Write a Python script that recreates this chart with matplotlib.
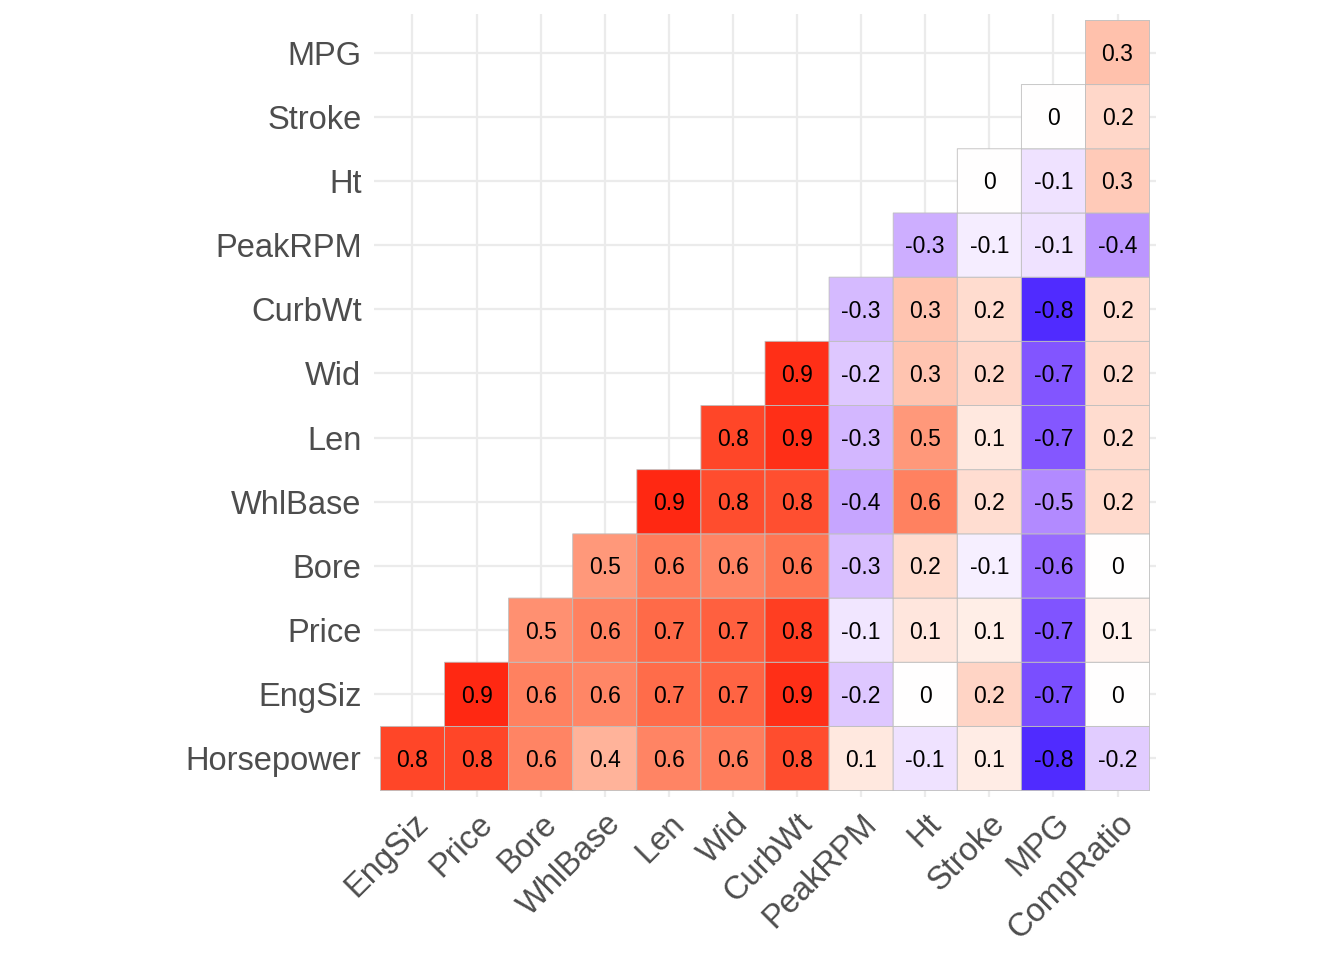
import numpy as np
import matplotlib
matplotlib.use('Agg')
import matplotlib.pyplot as plt
from matplotlib.colors import ListedColormap, Normalize

plt.rcParams['font.family'] = ['Liberation Sans', 'DejaVu Sans']

# Columns (x) and rows (y, bottom to top)
x_labels = ['EngSiz', 'Price', 'Bore', 'WhlBase', 'Len', 'Wid', 'CurbWt',
            'PeakRPM', 'Ht', 'Stroke', 'MPG', 'CompRatio']
y_labels = ['Horsepower', 'EngSiz', 'Price', 'Bore', 'WhlBase', 'Len', 'Wid',
            'CurbWt', 'PeakRPM', 'Ht', 'Stroke', 'MPG']

nan = np.nan
# correlation rows, one per y label, nan = upper triangle (not drawn)
r_horsepower = [0.81, 0.81, 0.58, 0.37, 0.58, 0.61, 0.79, 0.11, -0.11, 0.09, -0.83, -0.20]
r_engsiz = [nan, 0.88, 0.59, 0.57, 0.68, 0.71, 0.87, -0.22, 0.00, 0.21, -0.71, 0.00]
r_price = [nan, nan, 0.53, 0.59, 0.69, 0.72, 0.83, -0.10, 0.12, 0.08, -0.69, 0.07]
r_bore = [nan, nan, nan, 0.49, 0.61, 0.58, 0.64, -0.26, 0.17, -0.06, -0.59, 0.00]
r_whlbase = [nan, nan, nan, nan, 0.88, 0.79, 0.78, -0.36, 0.59, 0.16, -0.47, 0.18]
r_len = [nan, nan, nan, nan, nan, 0.81, 0.87, -0.29, 0.49, 0.11, -0.67, 0.17]
r_wid = [nan, nan, nan, nan, nan, nan, 0.87, -0.22, 0.29, 0.19, -0.68, 0.18]
r_curbwt = [nan, nan, nan, nan, nan, nan, nan, -0.27, 0.29, 0.17, -0.83, 0.16]
r_peakrpm = [nan, nan, nan, nan, nan, nan, nan, nan, -0.32, -0.07, -0.11, -0.42]
r_ht = [nan, nan, nan, nan, nan, nan, nan, nan, nan, 0.00, -0.11, 0.26]
r_stroke = [nan, nan, nan, nan, nan, nan, nan, nan, nan, nan, 0.00, 0.19]
r_mpg = [nan, nan, nan, nan, nan, nan, nan, nan, nan, nan, nan, 0.30]

# fill scale limit (symmetric around 0)
scale_limit = 0.93


# ggplot-like diverging gradient (interpolated in CIELAB)
def srgb_to_lab(rgb):
    rgb = np.asarray(rgb, float)
    lin = np.where(rgb <= 0.04045, rgb / 12.92, ((rgb + 0.055) / 1.055) ** 2.4)
    m = np.array([[0.4124564, 0.3575761, 0.1804375],
                  [0.2126729, 0.7151522, 0.0721750],
                  [0.0193339, 0.1191920, 0.9503041]])
    xyz = m @ lin / np.array([0.95047, 1.0, 1.08883])
    d = 6 / 29
    f = np.where(xyz > d ** 3, np.cbrt(xyz), xyz / (3 * d * d) + 4 / 29)
    return np.array([116 * f[1] - 16, 500 * (f[0] - f[1]), 200 * (f[1] - f[2])])


def lab_to_srgb(lab):
    L, a, b = lab
    fy = (L + 16) / 116
    fx = fy + a / 500
    fz = fy - b / 200
    d = 6 / 29
    f = np.array([fx, fy, fz])
    xyz = np.where(f > d, f ** 3, 3 * d * d * (f - 4 / 29)) * np.array([0.95047, 1.0, 1.08883])
    m = np.array([[3.2404542, -1.5371385, -0.4985314],
                  [-0.9692660, 1.8760108, 0.0415560],
                  [0.0556434, -0.2040259, 1.0572252]])
    lin = np.clip(m @ xyz, 0, 1)
    rgb = np.where(lin <= 0.0031308, 12.92 * lin, 1.055 * lin ** (1 / 2.4) - 0.055)
    return np.clip(rgb, 0, 1)


lab_low = srgb_to_lab([0, 0, 1])
lab_mid = srgb_to_lab([1, 1, 1])
lab_high = srgb_to_lab([1, 0, 0])
colors = []
for t in np.linspace(-1, 1, 256):
    end = lab_low if t < 0 else lab_high
    colors.append(lab_to_srgb(lab_mid + abs(t) * (end - lab_mid)))
cmap = ListedColormap(colors)

data = np.array([r_horsepower, r_engsiz, r_price, r_bore, r_whlbase, r_len,
                 r_wid, r_curbwt, r_peakrpm, r_ht, r_stroke, r_mpg])
masked = np.ma.masked_invalid(data)

fig = plt.figure(figsize=(13.44, 9.6), dpi=100)
ax = fig.add_axes([0.2783, 0.1698, 0.5818, 0.8156])

ax.pcolor(np.arange(len(x_labels) + 1) - 0.5, np.arange(len(y_labels) + 1) - 0.5,
          masked, cmap=cmap, norm=Normalize(-scale_limit, scale_limit),
          edgecolors='#BEBEBE', linewidth=0.6)

for i in range(len(y_labels)):
    for j in range(len(x_labels)):
        v = data[i, j]
        if np.isnan(v):
            continue
        lab = f'{round(v, 1):.1f}'
        if lab in ('0.0', '-0.0'):
            lab = '0'
        ax.text(j, i - 0.03, lab, ha='center', va='center', fontsize=16.5, color='black')

ax.set_xlim(-0.6, len(x_labels) - 0.4)
ax.set_ylim(-0.6, len(y_labels) - 0.4)
ax.set_xticks(range(len(x_labels)))
ax.set_yticks(range(len(y_labels)))
ax.set_xticklabels(x_labels, rotation=45, ha='right', va='top', rotation_mode='anchor')
ax.set_yticklabels(y_labels)
ax.tick_params(length=0, labelsize=23.5, labelcolor='#4D4D4D', pad=9)
ax.tick_params(axis='x', pad=8)
ax.grid(color='#EBEBEB', linewidth=1.6)
ax.set_axisbelow(True)
for s in ax.spines.values():
    s.set_visible(False)

fig.savefig('out.png', dpi=100, facecolor='white')
